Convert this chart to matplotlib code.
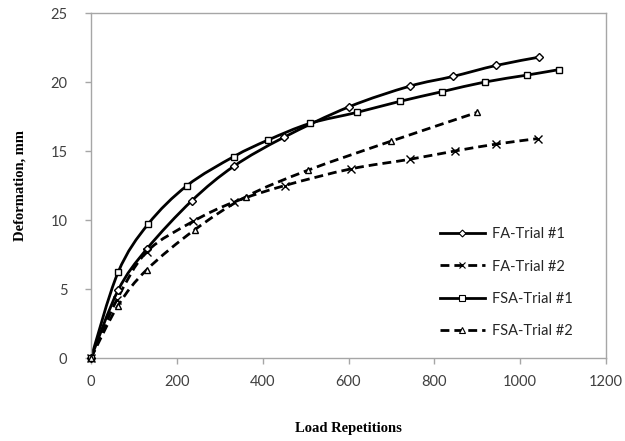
import numpy as np
import matplotlib
matplotlib.use("Agg")
from matplotlib import pyplot as plt
from matplotlib.path import Path
from matplotlib.patches import PathPatch
from matplotlib.lines import Line2D

fa1_x = [0, 63, 130, 235, 333, 450, 601, 743, 843, 944, 1044]
fa1_y = [0, 4.9, 7.9, 11.4, 13.9, 16.0, 18.2, 19.7, 20.4, 21.2, 21.8]

fa2_x = [0, 60, 130, 238, 333, 452, 605, 743, 848, 944, 1041]
fa2_y = [0, 4.2, 7.7, 9.9, 11.3, 12.5, 13.7, 14.4, 15.0, 15.5, 15.9]

fsa1_x = [0, 63, 133, 224, 333, 413, 510, 620, 720, 818, 918, 1016, 1091]
fsa1_y = [0, 6.2, 9.7, 12.5, 14.6, 15.8, 17.0, 17.8, 18.6, 19.3, 20.0, 20.5, 20.9]

fsa2_x = [0, 63, 130, 242, 362, 505, 698, 900]
fsa2_y = [0, 3.8, 6.4, 9.3, 11.7, 13.6, 15.7, 17.8]

labels = ['FA-Trial #1', 'FA-Trial #2', 'FSA-Trial #1', 'FSA-Trial #2']
GRAY = '#a6a6a6'
LW = 2.0
DASH = (0, (3.2, 1.8))


def smooth_path(xs, ys):
    # excel style smoothed line: bezier segments through every point
    p = np.column_stack([xs, ys]).astype(float)
    n = len(p)
    verts = [p[0]]
    codes = [Path.MOVETO]
    for i in range(n - 1):
        p0 = p[i - 1] if i > 0 else p[i]
        p3 = p[i + 2] if i + 2 < n else p[i + 1]
        c1 = p[i] + (p[i + 1] - p0) / 6.0
        c2 = p[i + 1] - (p3 - p[i]) / 6.0
        verts += [c1, c2, p[i + 1]]
        codes += [Path.CURVE4] * 3
    return Path(verts, codes)


fig = plt.figure(figsize=(6.25, 4.41), dpi=100)
ax = fig.add_axes([0.1456, 0.1882, 0.824, 0.7823])

series = [
    (fa1_x, fa1_y, 'D', '-', 4.5),
    (fa2_x, fa2_y, 'x', DASH, 6),
    (fsa1_x, fsa1_y, 's', '-', 5),
    (fsa2_x, fsa2_y, '^', DASH, 5),
]
handles = []
for (xs, ys, mk, ls, ms), lab in zip(series, labels):
    patch = PathPatch(smooth_path(xs, ys), facecolor='none', edgecolor='black',
                      lw=LW, linestyle=ls, capstyle='butt', zorder=2)
    ax.add_patch(patch)
    ax.plot(xs, ys, linestyle='none', marker=mk, ms=ms, mfc='white', mec='black',
            mew=1.0, zorder=3, clip_on=False)
    handles.append(Line2D([], [], color='black', lw=LW, linestyle=ls, marker=mk,
                          ms=ms - 1, mfc='white', mec='black', mew=0.8))

ax.set_xlim(0, 1200)
ax.set_ylim(0, 25)
ax.set_xticks(range(0, 1201, 200))
ax.set_yticks(range(0, 26, 5))
for s in ax.spines.values():
    s.set_color(GRAY)
    s.set_linewidth(1.0)
ax.tick_params(colors=GRAY, labelcolor='#404040', length=4, width=1.0,
               labelsize=10.5)
ax.tick_params(axis='y', pad=13)
ax.tick_params(axis='x', pad=8)
for t in ax.get_xticklabels() + ax.get_yticklabels():
    t.set_fontfamily('Lato')

ax.set_xlabel('Load Repetitions', fontfamily='Liberation Serif', fontweight='bold',
              fontsize=10.5, labelpad=24)
ax.set_ylabel('Deformation, mm', fontfamily='Liberation Serif', fontweight='bold',
              fontsize=10.5, labelpad=17)

leg = ax.legend(handles, labels, loc='lower right', bbox_to_anchor=(0.96, 0.02),
                frameon=False, handlelength=3.1, handletextpad=0.45,
                labelspacing=1.25, prop={'family': 'Lato', 'size': 10.5})
for t in leg.get_texts():
    t.set_color('#262626')

fig.savefig('out.png', dpi=100)
